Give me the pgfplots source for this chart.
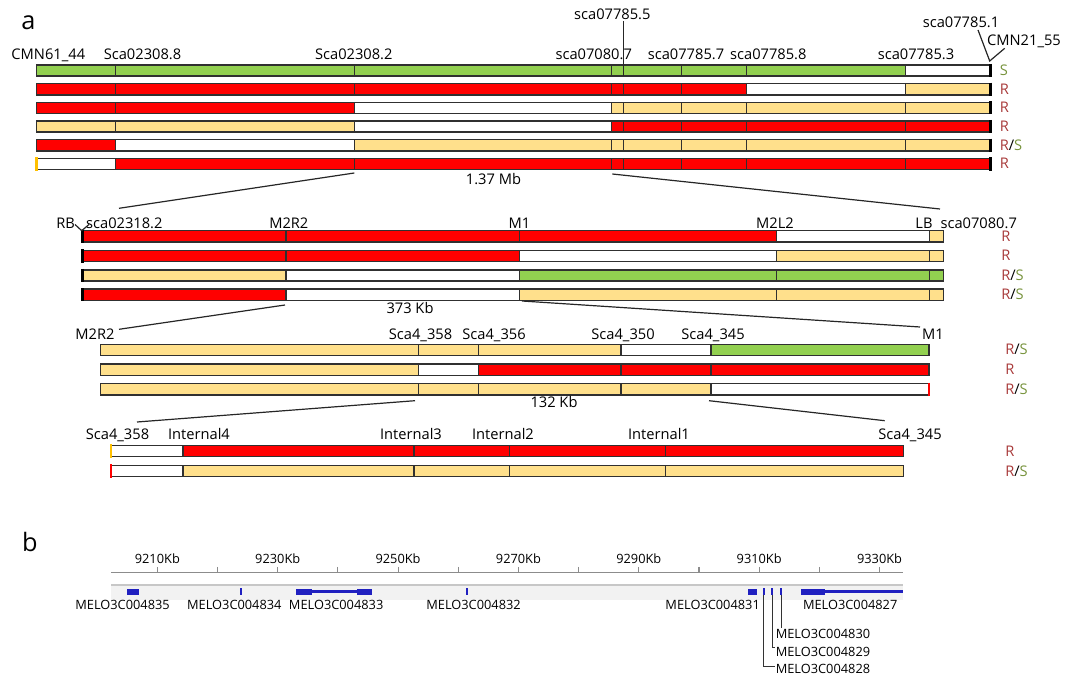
\documentclass[border=0pt]{standalone}
\usepackage{pgfplots}
\pgfplotsset{compat=1.18}
\usepackage{fontspec}
\setmainfont{Open Sans}

\definecolor{cR}{HTML}{FF0000}
\definecolor{cG}{HTML}{92D050}
\definecolor{cY}{HTML}{FFE08C}
\definecolor{cW}{HTML}{FFFFFF}
\definecolor{cO}{HTML}{FFC000}
\definecolor{bord}{HTML}{303030}
\definecolor{rlab}{HTML}{A83A3A}
\definecolor{slab}{HTML}{77933C}
\definecolor{gene}{HTML}{2020C0}

\newcommand\fl{\fontsize{11}{13}\selectfont}
\newcommand\fs{\fontsize{9.6}{11}\selectfont}
\newcommand\fb{\fontsize{19}{22}\selectfont}

% one coloured segment of a haplotype bar: x1, x2, row centre, fill
\newcommand\seg[4]{%
  \pgfmathsetmacro\ya{#3-5.6}\pgfmathsetmacro\yb{#3+5.6}%
  \addplot[draw=bord, line width=1.1pt, fill=#4] coordinates {(#1,\ya) (#2,\ya) (#2,\yb) (#1,\yb)} -- cycle;}
% end cap of a bar: x, row centre, colour
\newcommand\capm[3]{%
  \pgfmathsetmacro\ya{#2-6.6}\pgfmathsetmacro\yb{#2+6.6}%
  \addplot[#3, line width=2.2pt] coordinates {(#1,\ya) (#1,\yb)};}
% rows of the four blocks (marker positions fixed per block)
\newcommand\rowA[9]{\seg{36.7}{115.3}{#1}{#2}\seg{115.3}{354.3}{#1}{#3}\seg{354.3}{611.4}{#1}{#4}\seg{611.4}{623.5}{#1}{#5}\seg{623.5}{681.3}{#1}{#6}\seg{681.3}{746.3}{#1}{#7}\seg{746.3}{905.7}{#1}{#8}\seg{905.7}{990.3}{#1}{#9}}
\newcommand\rowB[6]{\seg{82.7}{286}{#1}{#2}\seg{286}{519.3}{#1}{#3}\seg{519.3}{776.3}{#1}{#4}\seg{776.3}{929.3}{#1}{#5}\seg{929.3}{943.7}{#1}{#6}}
\newcommand\rowC[6]{\seg{100.7}{418.7}{#1}{#2}\seg{418.7}{478.7}{#1}{#3}\seg{478.7}{621}{#1}{#4}\seg{621}{711}{#1}{#5}\seg{711}{929}{#1}{#6}}
\newcommand\rowD[6]{\seg{111}{183}{#1}{#2}\seg{183}{414}{#1}{#3}\seg{414}{509.3}{#1}{#4}\seg{509.3}{665.3}{#1}{#5}\seg{665.3}{903.3}{#1}{#6}}

\newcommand\lab[3]{\node[anchor=base, inner sep=0pt, font=\fl] at (axis cs:#1,#2) {#3};}
\newcommand\rr{\textcolor{rlab}{R}}
\newcommand\rs{\textcolor{rlab}{R}/\textcolor{slab}{S}}
\newcommand\res[3]{\node[anchor=base west, inner sep=0pt, font=\fl] at (axis cs:#1,#2) {#3};}

\begin{document}
\begin{tikzpicture}
\begin{axis}[at={(0pt,0pt)}, anchor=south west, scale only axis,
  width=804.75pt, height=510pt, xmin=0, xmax=1073, ymin=0, ymax=680,
  y dir=reverse, hide axis, clip=false]

% ---- block 1 (1.37 Mb)
\rowA{70.5}{cG}{cG}{cG}{cG}{cG}{cG}{cG}{cW}
\rowA{89.2}{cR}{cR}{cR}{cR}{cR}{cR}{cW}{cY}
\rowA{107.9}{cR}{cR}{cW}{cY}{cY}{cY}{cY}{cY}
\rowA{126.6}{cY}{cY}{cW}{cR}{cR}{cR}{cR}{cR}
\rowA{145.3}{cR}{cW}{cY}{cY}{cY}{cY}{cY}{cY}
\rowA{164}{cW}{cR}{cR}{cR}{cR}{cR}{cR}{cR}
\capm{990.3}{70.5}{black}\capm{990.3}{89.2}{black}\capm{990.3}{107.9}{black}
\capm{990.3}{126.6}{black}\capm{990.3}{145.3}{black}\capm{990.3}{164}{black}
\capm{36.7}{164}{cO}

% ---- block 2 (373 Kb)
\rowB{236.3}{cR}{cR}{cR}{cW}{cY}
\rowB{256}{cR}{cR}{cW}{cY}{cY}
\rowB{275.5}{cY}{cW}{cG}{cG}{cG}
\rowB{294.8}{cR}{cW}{cY}{cY}{cY}
\capm{82.2}{236.3}{black}\capm{82.2}{256}{black}\capm{82.2}{275.5}{black}\capm{82.2}{294.8}{black}

% ---- block 3 (132 Kb)
\rowC{350}{cY}{cY}{cY}{cW}{cG}
\rowC{369.7}{cY}{cW}{cR}{cR}{cR}
\rowC{389.3}{cY}{cY}{cY}{cY}{cW}
\capm{929}{389.3}{cR}

% ---- block 4
\rowD{451}{cW}{cR}{cR}{cR}{cR}
\rowD{471}{cW}{cY}{cY}{cY}{cY}
\capm{111}{451}{cO}\capm{111}{471}{cR}

% ---- connecting lines
\addplot[black!85, line width=0.9pt] coordinates {(354.3,173) (119,208.3)};
\addplot[black!85, line width=0.9pt] coordinates {(612.3,174) (940,209)};
\addplot[black!85, line width=0.9pt] coordinates {(285,305) (119,329.3)};
\addplot[black!85, line width=0.9pt] coordinates {(522,301) (920,327)};
\addplot[black!85, line width=0.9pt] coordinates {(415,400.7) (137,422)};
\addplot[black!85, line width=0.9pt] coordinates {(709,400.7) (884.7,420.7)};
\addplot[black!85, line width=0.9pt] coordinates {(623.5,21) (623.5,76)};
\addplot[black!85, line width=0.9pt] coordinates {(978,30) (989.7,61) (1004.7,48.3)};
\addplot[black!85, line width=0.9pt] coordinates {(75,224.5) (81.7,230.7) (89,224.5)};

% ---- labels
\node[anchor=base, inner sep=0pt, font=\fb] at (axis cs:28.5,29.3) {a};
\node[anchor=base, inner sep=0pt, font=\fb] at (axis cs:30,551.7) {b};

\lab{48.3}{59.3}{CMN61\_44}
\lab{142.5}{59.3}{Sca02308.8}
\lab{353.8}{59.3}{Sca02308.2}
\lab{593.7}{59.3}{sca07080.7}
\lab{686}{59.3}{sca07785.7}
\lab{768.3}{59.3}{sca07785.8}
\lab{916}{59.3}{sca07785.3}
\lab{612.3}{19.5}{sca07785.5}
\lab{961}{27.3}{sca07785.1}
\lab{1024}{45.7}{CMN21\_55}
\lab{493.5}{185}{1.37 Mb}

\lab{65.7}{228.3}{RB}
\lab{124.3}{228.3}{sca02318.2}
\lab{288.8}{228.3}{M2R2}
\lab{519.5}{228.3}{M1}
\lab{775}{228.3}{M2L2}
\lab{924}{228.3}{LB}
\lab{978.7}{228.3}{sca07080.7}
\lab{410}{314}{373 Kb}

\lab{95}{339.3}{M2R2}
\lab{420.5}{339.3}{Sca4\_358}
\lab{494}{339.3}{Sca4\_356}
\lab{623}{339.3}{Sca4\_350}
\lab{713}{339.3}{Sca4\_345}
\lab{933}{339.3}{M1}
\lab{554}{407.7}{132 Kb}

\lab{117.5}{440}{Sca4\_358}
\lab{199}{440}{Internal4}
\lab{411}{440}{Internal3}
\lab{503}{440}{Internal2}
\lab{659}{440}{Internal1}
\lab{910}{440}{Sca4\_345}

\res{999.5}{75.5}{\textcolor{slab}{S}}
\res{999.5}{94.2}{\rr}
\res{999.5}{112.9}{\rr}
\res{999.5}{131.6}{\rr}
\res{999.5}{150.3}{\rs}
\res{999.5}{169}{\rr}
\res{1001}{241.3}{\rr}
\res{1001}{261}{\rr}
\res{1001}{280.5}{\rs}
\res{1001}{299.8}{\rs}
\res{1005}{355}{\rs}
\res{1005}{374.7}{\rr}
\res{1005}{394.3}{\rs}
\res{1005}{456}{\rr}
\res{1005}{476}{\rs}
\end{axis}

% ---- panel b: genome browser track, x in Kb, y in -pixels
\begin{axis}[at={(83.25pt,0pt)}, anchor=south west, scale only axis,
  width=594pt, height=80.475pt, xmin=9202.3, xmax=9333.9, ymin=-680, ymax=-572.7,
  axis x line*=top, axis y line=none, clip=false,
  xtick={9210,9220,...,9330}, xticklabels={}, tick align=outside,
  major tick length=4.3pt, x axis line style={black!45, line width=0.8pt},
  x tick style={black!45, line width=0.8pt}]
\addplot[fill=black!5, draw=none] coordinates {(9202.3,-585) (9333.9,-585) (9333.9,-600) (9202.3,-600)} -- cycle;
\addplot[black!22, line width=0.8pt] coordinates {(9202.3,-585) (9333.9,-585)};

% genes
\addplot[fill=gene, draw=gene, line width=0.4pt] coordinates {(9204.98,-589.5) (9206.88,-589.5) (9206.88,-594) (9204.98,-594)} -- cycle;
\addplot[gene, line width=1.6pt] coordinates {(9223.95,-588.5) (9223.95,-595)};
\addplot[gene, line width=2.6pt] coordinates {(9233.13,-591.7) (9245.59,-591.7)};
\addplot[fill=gene, draw=gene, line width=0.4pt] coordinates {(9233.13,-589) (9235.6,-589) (9235.6,-594.5) (9233.13,-594.5)} -- cycle;
\addplot[fill=gene, draw=gene, line width=0.4pt] coordinates {(9243.2,-589) (9245.59,-589) (9245.59,-594.5) (9243.2,-594.5)} -- cycle;
\addplot[gene, line width=1.6pt] coordinates {(9261.4,-588.5) (9261.4,-595)};
\addplot[fill=gene, draw=gene, line width=0.4pt] coordinates {(9308.12,-589.5) (9309.5,-589.5) (9309.5,-594) (9308.12,-594)} -- cycle;
\addplot[gene, line width=1.4pt] coordinates {(9310.78,-588.5) (9310.78,-595)};
\addplot[gene, line width=1.4pt] coordinates {(9312.16,-588.5) (9312.16,-595)};
\addplot[gene, line width=1.4pt] coordinates {(9313.66,-588.5) (9313.66,-595)};
\addplot[gene, line width=2.6pt] coordinates {(9316.98,-591.7) (9333.9,-591.7)};
\addplot[fill=gene, draw=gene, line width=0.4pt] coordinates {(9316.98,-589) (9320.8,-589) (9320.8,-594.5) (9316.98,-594.5)} -- cycle;

% leader lines
\addplot[black!80, line width=0.7pt] coordinates {(9313.66,-595) (9313.66,-628.3)};
\addplot[black!80, line width=0.7pt] coordinates {(9312.16,-595) (9312.16,-647.3) (9312.56,-647.3)};
\addplot[black!80, line width=0.7pt] coordinates {(9310.78,-595) (9310.78,-666) (9312.56,-666)};

% tick labels
\node[anchor=base, inner sep=0pt, font=\fs] at (axis cs:9210,-564) {9210Kb};
\node[anchor=base, inner sep=0pt, font=\fs] at (axis cs:9230,-564) {9230Kb};
\node[anchor=base, inner sep=0pt, font=\fs] at (axis cs:9250,-564) {9250Kb};
\node[anchor=base, inner sep=0pt, font=\fs] at (axis cs:9270,-564) {9270Kb};
\node[anchor=base, inner sep=0pt, font=\fs] at (axis cs:9290,-564) {9290Kb};
\node[anchor=base, inner sep=0pt, font=\fs] at (axis cs:9310,-564) {9310Kb};
\node[anchor=base, inner sep=0pt, font=\fs] at (axis cs:9330,-564) {9330Kb};

% gene names
\node[anchor=base, inner sep=0pt, font=\fs] at (axis cs:9204.22,-610) {MELO3C004835};
\node[anchor=base, inner sep=0pt, font=\fs] at (axis cs:9222.79,-610) {MELO3C004834};
\node[anchor=base, inner sep=0pt, font=\fs] at (axis cs:9239.71,-610) {MELO3C004833};
\node[anchor=base, inner sep=0pt, font=\fs] at (axis cs:9262.54,-610) {MELO3C004832};
\node[anchor=base, inner sep=0pt, font=\fs] at (axis cs:9302.27,-610) {MELO3C004831};
\node[anchor=base, inner sep=0pt, font=\fs] at (axis cs:9325.12,-610) {MELO3C004827};
\node[anchor=base west, inner sep=0pt, font=\fs] at (axis cs:9312.72,-638.7) {MELO3C004830};
\node[anchor=base west, inner sep=0pt, font=\fs] at (axis cs:9312.72,-656.7) {MELO3C004829};
\node[anchor=base west, inner sep=0pt, font=\fs] at (axis cs:9312.72,-673.3) {MELO3C004828};
\end{axis}
\pgfresetboundingbox
\path (0pt,0pt) rectangle (804.75pt,510pt);
\end{tikzpicture}
\end{document}
